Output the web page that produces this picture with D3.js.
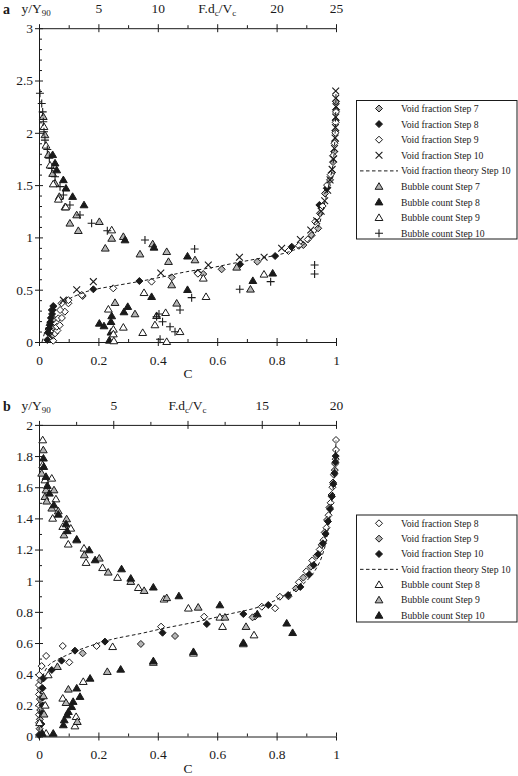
<!DOCTYPE html>
<html><head><meta charset="utf-8">
<script src="https://cdn.jsdelivr.net/npm/d3@7"></script>
<style>
body{margin:0;background:#fff}
text{font-family:"Liberation Serif","Times New Roman",serif;fill:#1a1a1a}
</style>
</head><body>
<svg id="c" width="518" height="776"></svg>
<script>
// ---------- Panel a data: void fraction [C, y/Y90] ----------
const aVF7 = [[0.043,0.306],[0.05,0.22],[0.047,0.14],[0.044,0.06],[0.147,0.44],[0.447,0.618],[0.553,0.65],[0.615,0.695],[0.735,0.768],
  [0.89,0.927],[0.918,1.02],[0.94,1.087],[0.946,1.23],[0.963,1.42],[0.98,1.55],[0.986,1.62],[0.99,1.72],[0.994,1.82],[0.997,1.92],[0.998,2.02],[0.999,2.12],[1.0,2.22],[1.0,2.3]];
const aVF8 = [[0.028,0.02],[0.03,0.09],[0.034,0.13],[0.036,0.16],[0.038,0.19],[0.04,0.23],[0.044,0.268],[0.046,0.306],[0.048,0.344],
  [0.183,0.504],[0.338,0.583],[0.534,0.663],[0.677,0.743],[0.795,0.822],[0.851,0.911],[0.944,1.31],[0.969,1.47]];
const aVF9 = [[0.048,0.012],[0.054,0.083],[0.062,0.11],[0.06,0.146],[0.07,0.16],[0.065,0.226],[0.077,0.23],[0.087,0.29],[0.071,0.306],[0.076,0.37],[0.099,0.37],[0.099,0.40],[0.144,0.45],
  [0.25,0.513],[0.379,0.577],[0.535,0.653],[0.84,0.87],[0.875,0.92],[0.905,0.98],[0.93,1.15],[0.955,1.3],[0.97,1.5],[0.982,1.6],[0.99,1.78],[0.995,1.9],[0.998,2.0],[0.999,2.1],[1.0,2.2]];
const aVF10 = [[0.037,0.06],[0.082,0.40],[0.127,0.50],[0.183,0.577],[0.41,0.66],[0.57,0.736],[0.675,0.81],[0.758,0.81],[0.817,0.896],[0.88,0.98],[0.915,1.07],[0.935,1.16],[0.95,1.25],[0.962,1.35],[0.972,1.45],[0.98,1.55],[0.987,1.65],[0.992,1.75],[0.995,1.85],[0.997,1.95],[0.998,2.05],[0.999,2.15],[1.0,2.25],[0.999,2.33],[0.999,2.4]];
const aTheory = [[0.01,0.0],[0.02,0.1],[0.03,0.2],[0.04,0.28],[0.06,0.34],[0.093,0.40],[0.13,0.45],[0.183,0.50],[0.26,0.54],[0.34,0.58],[0.42,0.625],[0.497,0.672],[0.58,0.71],[0.654,0.752],[0.744,0.80],[0.80,0.83],[0.85,0.87],[0.89,0.93],[0.92,1.0],[0.94,1.1],[0.955,1.25],[0.974,1.48],[0.99,1.7],[0.997,2.0],[1.0,2.4]];
// ---------- Panel a data: bubble count [F.dc/Vc, y/Y90] ----------
const aBC7 = [[0.36,2.154],[0.5,1.98],[0.79,1.79],[1.15,1.61],[1.35,1.517],[1.71,1.39],[2.19,1.29],[2.6,1.135],[3.31,1.064],[3.17,1.214],[5.08,1.15],[5.58,0.896],[6.12,0.99],[7.1,1.007],[8.5,0.84],[9.57,0.937],[10.75,0.863],[10.9,0.768],[11.17,0.545],[13.13,0.784],[16.64,0.714],[17.8,0.504],[6.4,0.376],[8.08,0.268],[9.9,0.251],[11.59,0.37]];
const aBC8 = [[1.15,1.79],[1.35,1.71],[1.49,1.644],[2.05,1.55],[2.27,1.47],[2.83,1.39],[3.79,1.31],[7.24,0.975],[9.68,0.905],[12.5,0.82],[9.48,0.433],[12.5,0.50],[18.0,0.586],[19.67,0.657],[5.08,0.178],[5.47,0.153],[6.12,0.249],[6.06,0.194],[6.06,0.093],[5.92,0.016],[7.15,0.287],[7.47,0.338]];
const aBC9 = [[0.42,2.058],[0.59,1.88],[0.93,1.69],[1.2,1.51],[1.63,1.364],[2.25,1.29],[6.12,1.07],[8.84,0.471],[8.73,0.089],[5.84,0.313],[6.26,0.121],[6.3,0.01],[6.26,0.076],[7.1,0.14],[9.76,0.163],[10.75,0.003],[10.66,0.28],[11.87,0.098],[14.06,0.433],[13.83,0.609],[18.94,0.647]];
const aBC10 = [[0.08,2.378],[0.23,2.28],[0.31,2.2],[0.36,2.106],[0.42,2.01],[0.5,1.93],[0.7,1.84],[0.87,1.756],[1.07,1.66],[1.35,1.58],[1.77,1.485],[2.05,1.405],[2.6,1.31],[3.45,1.214],[4.43,1.135],[5.75,1.064],[8.92,0.975],[13.1,0.889],[12.85,0.424],[16.9,0.504],[11.87,0.306],[11.03,0.146],[11.45,0.098],[10.19,0.026],[9.9,0.242],[10.4,0.194],[10.1,0.268],[19.5,0.577],[23.2,0.736],[23.2,0.65]];

// ---------- Panel b data: void fraction [C, y/Y90] ----------
const bVF8 = [[0.001,0.395],[0.0,0.33],[0.0,0.27],[0.001,0.2],[0.0,0.14],[0.0,0.088],[0.009,0.452],[0.024,0.517],[0.08,0.581],[0.102,0.476],[0.194,0.581],[0.411,0.705],[0.556,0.769],[0.727,0.77],[0.75,0.833],[0.795,0.823],[0.811,0.897],[0.875,0.99],[0.9,1.06],[0.92,1.13],[0.945,1.2],[0.958,1.26],[0.968,1.34],[0.975,1.42],[0.982,1.5],[0.988,1.6],[0.993,1.68],[0.997,1.75],[1.0,1.839],[1.0,1.903]];
const bVF9 = [[0.005,0.36],[0.004,0.3],[0.003,0.24],[0.004,0.17],[0.003,0.11],[0.002,0.05],[0.147,0.534],[0.343,0.594],[0.458,0.645],[0.719,0.765],[0.84,0.9],[0.865,0.95],[0.89,1.02],[0.915,1.09],[0.935,1.16],[0.952,1.23],[0.962,1.31],[0.97,1.39],[0.978,1.47],[0.985,1.55],[0.99,1.63],[0.996,1.71],[0.999,1.78]];
const bVF10 = [[0.0,0.01],[0.008,0.08],[0.01,0.15],[0.012,0.2],[0.012,0.25],[0.012,0.31],[0.015,0.373],[0.043,0.427],[0.076,0.487],[0.121,0.551],[0.222,0.609],[0.416,0.666],[0.565,0.722],[0.688,0.786],[0.772,0.844],[0.839,0.908],[0.88,0.96],[0.91,1.04],[0.925,1.1],[0.94,1.17],[0.956,1.24],[0.965,1.3],[0.973,1.38],[0.98,1.46],[0.986,1.54],[0.991,1.62],[0.995,1.69],[0.998,1.76],[0.999,1.8]];
const bTheory = [[0.0,0.0],[0.002,0.15],[0.005,0.28],[0.01,0.36],[0.02,0.42],[0.04,0.47],[0.08,0.51],[0.17,0.58],[0.26,0.63],[0.34,0.66],[0.41,0.69],[0.54,0.74],[0.65,0.79],[0.72,0.82],[0.78,0.86],[0.82,0.9],[0.86,0.94],[0.89,0.98],[0.92,1.04],[0.94,1.1],[0.96,1.2],[0.975,1.35],[0.985,1.5],[0.993,1.65],[0.998,1.8],[1.0,1.9]];
// ---------- Panel b data: bubble count [F.dc/Vc, y/Y90] ----------
const bBC8 = [[0.25,1.903],[0.25,1.743],[0.40,1.646],[0.86,1.657],[1.14,1.524],[0.92,1.4],[1.6,1.347],[2.14,1.336],[1.97,1.234],[3.03,1.208],[3.17,1.116],[4.28,1.083],[5.29,1.02],[6.69,0.955],[8.42,0.881],[10.06,0.823],[12.18,0.765],[12.36,0.705],[14.48,0.651],[10.4,0.534],[4.96,0.576],[2.98,0.352],[1.6,0.245],[2.5,0.127],[2.42,0.067],[0.62,0.395],[0.42,0.2],[0.04,0.088],[0.48,0.02]];
const bBC9 = [[0.29,1.839],[0.18,1.689],[0.47,1.582],[1.01,1.582],[0.86,1.465],[1.3,1.447],[1.86,1.396],[1.68,1.293],[2.54,1.261],[3.05,1.165],[4.06,1.144],[4.66,1.054],[6.18,0.994],[7.08,0.936],[8.6,0.89],[10.72,0.829],[12.52,0.765],[13.94,0.705],[13.76,0.594],[7.7,0.475],[4.6,0.416],[1.98,0.303],[1.82,0.217],[2.58,0.095],[1.24,0.448],[0.3,0.26],[0.34,0.143],[0.40,1.539],[0.52,1.51]];
const bBC10 = [[0.3,1.786],[0.32,1.732],[0.47,1.668],[0.56,1.61],[0.7,1.561],[1.0,1.486],[1.3,1.426],[1.82,1.364],[1.9,1.32],[2.54,1.266],[3.38,1.197],[3.78,1.133],[5.56,1.075],[6.18,1.015],[7.7,0.958],[9.42,0.902],[12.18,0.844],[13.76,0.602],[14.7,0.786],[5.5,0.431],[7.7,0.485],[10.4,0.544],[3.44,0.373],[2.54,0.31],[2.76,0.256],[2.3,0.224],[2.2,0.191],[1.98,0.159],[1.88,0.138],[1.7,0.106],[1.64,0.074],[0.96,0.02],[0.22,0.02],[16.68,0.727],[17.08,0.666]];

// ---------- Axis ticks / labels ----------
const cTicks = [0,0.2,0.4,0.6,0.8,1];
const cTickLabels = ["0","0.2","0.4","0.6","0.8","1"];
const aYTicks = [0,0.5,1,1.5,2,2.5,3];
const aYTickLabels = ["0","0.5","1","1.5","2","2.5","3"];
const aFTicks = [0,5,10,15,20,25];
const aFTickLabels = ["","5","10","","20","25"];
const bYTicks = [0,0.2,0.4,0.6,0.8,1,1.2,1.4,1.6,1.8,2];
const bYTickLabels = ["0","0.2","0.4","0.6","0.8","1","1.2","1.4","1.6","1.8","2"];
const bFTicks = [0,5,10,15,20];
const bFTickLabels = ["","5","","15","20"];

const legendA = ["Void fraction Step 7","Void fraction Step 8","Void fraction Step 9","Void fraction Step 10","Void fraction theory Step 10","Bubble count Step 7","Bubble count Step 8","Bubble count Step 9","Bubble count Step 10"];
const legendB = ["Void fraction Step 8","Void fraction Step 9","Void fraction Step 10","Void fraction theory Step 10","Bubble count Step 8","Bubble count Step 9","Bubble count Step 10"];

const GREY = "#b4b4b4", INK = "#1a1a1a";
function shape(type){
  switch(type){
    case "diamond": return "M0,-3.5L3.5,0L0,3.5L-3.5,0Z";
    case "tri": return "M0,-3.8L3.9,2.8L-3.9,2.8Z";
    case "x": return "M-3.4,-3.4L3.4,3.4M-3.4,3.4L3.4,-3.4";
    case "plus": return "M-4,0L4,0M0,-4L0,4";
  }
}
function styleMark(sel, s){
  sel.attr("d", shape(s.shape))
    .attr("fill", s.fill || "none")
    .attr("stroke", INK)
    .attr("stroke-width", s.shape==="x"||s.shape==="plus" ? 1.1 : 1);
}

const svg = d3.select("#c");

function panel(cfg){
  const x = d3.scaleLinear().domain([0,1]).range([39,336]);
  const xF = d3.scaleLinear().domain([0,cfg.fMax]).range([39,336]);
  const y = d3.scaleLinear().domain([0,cfg.yMax]).range(cfg.yRange);
  const g = svg.append("g");
  const fontAxis = g2 => g2.selectAll("text").attr("font-family",'"Liberation Serif","Times New Roman",serif').attr("font-size",13.5).attr("fill",INK);
  const line = g2 => { g2.selectAll("path,line").attr("stroke",INK).attr("stroke-width",1); g2.attr("font-family",null); };

  const yB = cfg.yRange[0], yT = cfg.yRange[1];
  // bottom axis
  g.append("g").attr("transform",`translate(0,${yB})`)
    .call(d3.axisBottom(x).tickValues(cTicks).tickFormat((d,i)=>cTickLabels[i]).tickSizeInner(4).tickSizeOuter(0).tickPadding(9))
    .call(fontAxis).call(line);
  g.append("g").attr("transform",`translate(0,${yB})`).call(d3.axisBottom(x).tickValues(cTicks).tickFormat("").tickSize(-4)).call(line).select(".domain").remove();
  g.append("g").attr("transform",`translate(0,${yB})`).call(d3.axisBottom(x).tickValues(d3.range(0.1,1,0.2)).tickFormat("").tickSize(-3)).call(line).select(".domain").remove();

  // top axis
  g.append("g").attr("transform",`translate(0,${yT})`)
    .call(d3.axisTop(xF).tickValues(cfg.fTicks).tickFormat((d,i)=>cfg.fLabels[i]).tickSizeInner(4).tickSizeOuter(0).tickPadding(11))
    .call(fontAxis).call(line);
  g.append("g").attr("transform",`translate(0,${yT})`).call(d3.axisTop(xF).tickValues(cfg.fTicks).tickFormat("").tickSize(-4)).call(line).select(".domain").remove();
  g.append("g").attr("transform",`translate(0,${yT})`).call(d3.axisTop(xF).tickValues(d3.range(2.5,cfg.fMax,5)).tickFormat("").tickSize(3)).call(line).select(".domain").remove();

  // left axis
  g.append("g").attr("transform",`translate(39,0)`)
    .call(d3.axisLeft(y).tickValues(cfg.yTicks).tickFormat((d,i)=>cfg.yLabels[i]).tickSizeInner(4).tickSizeOuter(0).tickPadding(2))
    .call(fontAxis).call(line);
  g.append("g").attr("transform",`translate(39,0)`).call(d3.axisLeft(y).tickValues(cfg.yTicks).tickFormat("").tickSize(-4)).call(line).select(".domain").remove();
  g.append("g").attr("transform",`translate(39,0)`).call(d3.axisLeft(y).tickValues(d3.range(0.1,cfg.yMax,0.1).filter(v=>Math.abs(v/cfg.yStep-Math.round(v/cfg.yStep))>0.01)).tickFormat("").tickSize(-3)).call(line).select(".domain").remove();

  // titles
  const yt = g.append("text").attr("x",36).attr("y",yT-15).attr("text-anchor","middle").attr("font-size",13.5);
  yt.append("tspan").text("y/Y");
  yt.append("tspan").attr("font-size",9).attr("dy",3).text("90");
  const ft = g.append("text").attr("x",xF(cfg.fTitleAt)).attr("y",yT-15).attr("text-anchor","middle").attr("font-size",13.5);
  ft.append("tspan").text("F.d");
  ft.append("tspan").attr("font-size",9).attr("dy",3).text("c");
  ft.append("tspan").attr("dy",-3).text("/V");
  ft.append("tspan").attr("font-size",9).attr("dy",3).text("c");
  g.append("text").attr("x",188).attr("y",yB+36).attr("text-anchor","middle").attr("font-size",13.5).text("C");
  g.append("text").attr("x",3).attr("y",yT-14).attr("font-size",14).attr("font-weight","bold").text(cfg.letter);

  // marks
  cfg.series.forEach(s=>{
    if(s.shape==="line"){
      g.append("path").datum(s.data)
        .attr("d", d3.line().x(d=>x(d[0])).y(d=>y(d[1])).curve(d3.curveMonotoneY))
        .attr("fill","none").attr("stroke",INK).attr("stroke-width",1).attr("stroke-dasharray","3.5,2.5");
      return;
    }
    const xs = s.axis==="F" ? xF : x;
    g.append("g").selectAll("path").data(s.data).join("path")
      .attr("transform", d=>`translate(${xs(d[0])},${y(d[1])})`)
      .call(sel=>styleMark(sel,s));
  });

  // legend
  const L = cfg.legend;
  const lg = g.append("g");
  lg.append("rect").attr("x",356.5).attr("y",L.top).attr("width",160.5).attr("height",L.height)
    .attr("fill","#fff").attr("stroke",INK).attr("stroke-width",1);
  const rows = lg.selectAll("g.row").data(L.items).join("g").attr("class","row")
    .attr("transform",(d,i)=>`translate(0,${L.first + i*L.step})`);
  rows.each(function(d){
    const r = d3.select(this);
    if(d.s.shape==="line"){
      r.append("line").attr("x1",360).attr("x2",398).attr("y1",0).attr("y2",0)
        .attr("stroke",INK).attr("stroke-width",1).attr("stroke-dasharray","3.5,2.5");
    } else {
      r.append("path").attr("transform","translate(379,0)").call(sel=>styleMark(sel,d.s));
    }
    r.append("text").attr("x",401).attr("y",0).attr("dy","0.35em").attr("font-size",9.7).text(d.label);
  });
}

const sA = [
  {data:aVF7, shape:"diamond", fill:GREY, axis:"C"},
  {data:aVF8, shape:"diamond", fill:INK, axis:"C"},
  {data:aVF9, shape:"diamond", fill:"#fff", axis:"C"},
  {data:aVF10, shape:"x", axis:"C"},
  {data:aTheory, shape:"line"},
  {data:aBC7, shape:"tri", fill:GREY, axis:"F"},
  {data:aBC8, shape:"tri", fill:INK, axis:"F"},
  {data:aBC9, shape:"tri", fill:"#fff", axis:"F"},
  {data:aBC10, shape:"plus", axis:"F"}
];
panel({letter:"a", fMax:25, yMax:3, yStep:0.5, yRange:[342,28.2], yTicks:aYTicks, yLabels:aYTickLabels,
  fTicks:aFTicks, fLabels:aFTickLabels, fTitleAt:15, series:sA,
  legend:{top:100.5, height:138.5, first:108.5, step:15.6, items:sA.map((s,i)=>({s, label:legendA[i]}))}});

const sB = [
  {data:bVF8, shape:"diamond", fill:"#fff", axis:"C"},
  {data:bVF9, shape:"diamond", fill:GREY, axis:"C"},
  {data:bVF10, shape:"diamond", fill:INK, axis:"C"},
  {data:bTheory, shape:"line"},
  {data:bBC8, shape:"tri", fill:"#fff", axis:"F"},
  {data:bBC9, shape:"tri", fill:GREY, axis:"F"},
  {data:bBC10, shape:"tri", fill:INK, axis:"F"}
];
panel({letter:"b", fMax:20, yMax:2, yStep:0.2, yRange:[736.5,424.9], yTicks:bYTicks, yLabels:bYTickLabels,
  fTicks:bFTicks, fLabels:bFTickLabels, fTitleAt:10, series:sB,
  legend:{top:515, height:107, first:523.3, step:15.35, items:sB.map((s,i)=>({s, label:legendB[i]}))}});
</script>
</body></html>
